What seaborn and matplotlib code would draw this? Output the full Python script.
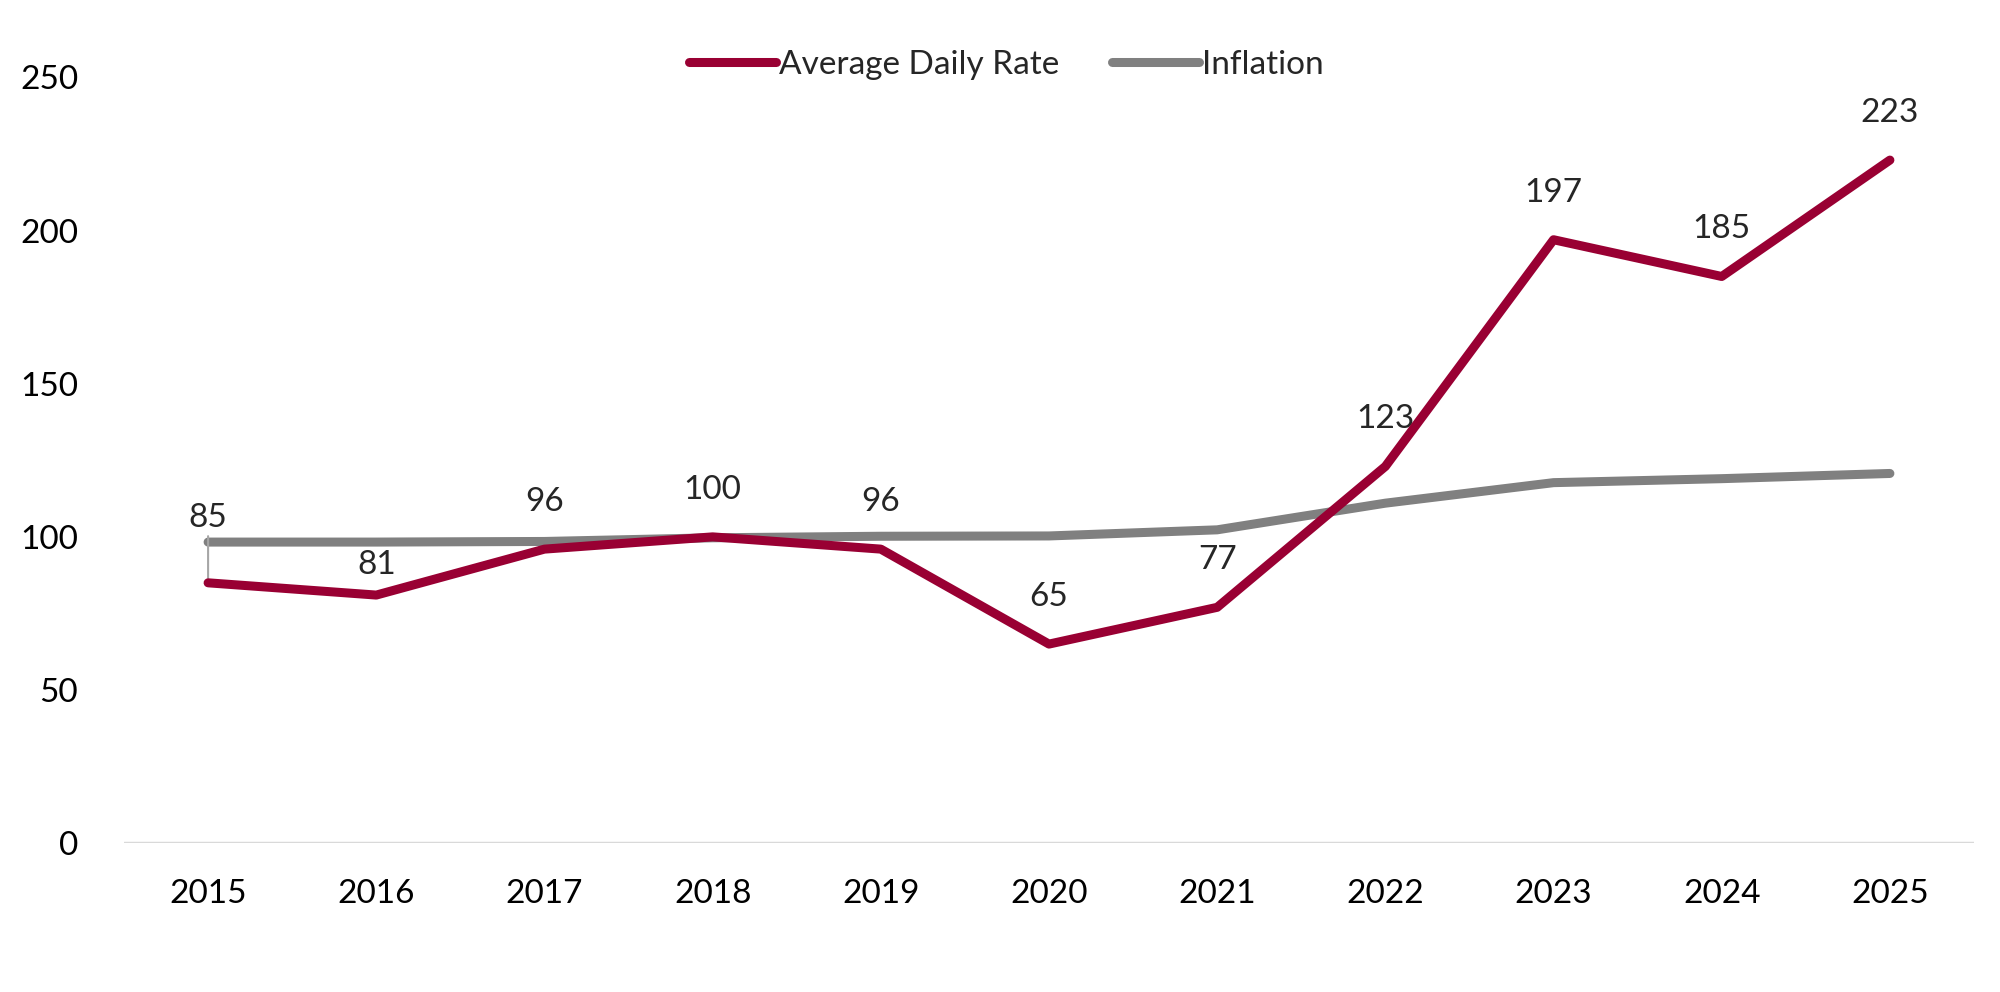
import pandas as pd
import numpy as np
import matplotlib
matplotlib.use("Agg")
import matplotlib.pyplot as plt
import seaborn as sns

# values
years = [2015, 2016, 2017, 2018, 2019, 2020, 2021, 2022, 2023, 2024, 2025]
adr = [85, 81, 96, 100, 96, 65, 77, 123, 197, 185, 223]
inflation = [98.3, 98.3, 98.5, 99.7, 100.2, 100.3, 102.3, 111.0, 117.7, 119.0, 120.7]
series_names = ["Average Daily Rate", "Inflation"]
yticks = [0, 50, 100, 150, 200, 250]

df = pd.DataFrame({
    "year": [str(y) for y in years] * 2,
    "value": adr + inflation,
    "series": [series_names[0]] * len(years) + [series_names[1]] * len(years),
})

sns.set_style("white")
plt.rcParams["font.family"] = ["Lato", "DejaVu Sans"]

fig = plt.figure(figsize=(20, 9.92), dpi=100)
ax = fig.add_axes([0.062, 0.15, 0.925, 0.772])

palette = {series_names[0]: "#990033", series_names[1]: "#808080"}
sns.lineplot(data=df, x="year", y="value", hue="series", palette=palette,
             linewidth=6.5, sort=False, ax=ax, solid_capstyle="round")
# draw red above the grey line
ax.lines[0].set_zorder(4)
ax.lines[1].set_zorder(3)

ax.set_ylim(0, 250)
ax.set_xlim(-0.5, len(years) - 0.5)
ax.set_yticks(yticks)
ax.set_xlabel("")
ax.set_ylabel("")
for s in ax.spines.values():
    s.set_visible(False)
ax.axhline(0, color="#d9d9d9", linewidth=2.5, zorder=1)
ax.tick_params(axis="both", labelsize=24, length=0, colors="black")
ax.tick_params(axis="x", pad=26)
ax.tick_params(axis="y", pad=33)

# data labels for Average Daily Rate
for i, v in enumerate(adr):
    if i == 0:
        ax.annotate(str(v), xy=(i, v), xytext=(i, inflation[0] + 3),
                    ha="center", va="bottom", fontsize=24,
                    arrowprops=dict(arrowstyle="-", color="#a6a6a6", lw=1.5,
                                    shrinkA=0, shrinkB=0))
    else:
        off = 22 if i == 1 else 34
        ax.annotate(str(v), xy=(i, v), xytext=(0, off), textcoords="offset points",
                    ha="center", va="center", fontsize=24)

ax.legend(loc="upper center", bbox_to_anchor=(0.477, 1.075), ncol=2, frameon=False,
          fontsize=24, handlelength=2.6, handletextpad=0.1, columnspacing=1.6)

fig.savefig("out.png", dpi=100, facecolor="white")
